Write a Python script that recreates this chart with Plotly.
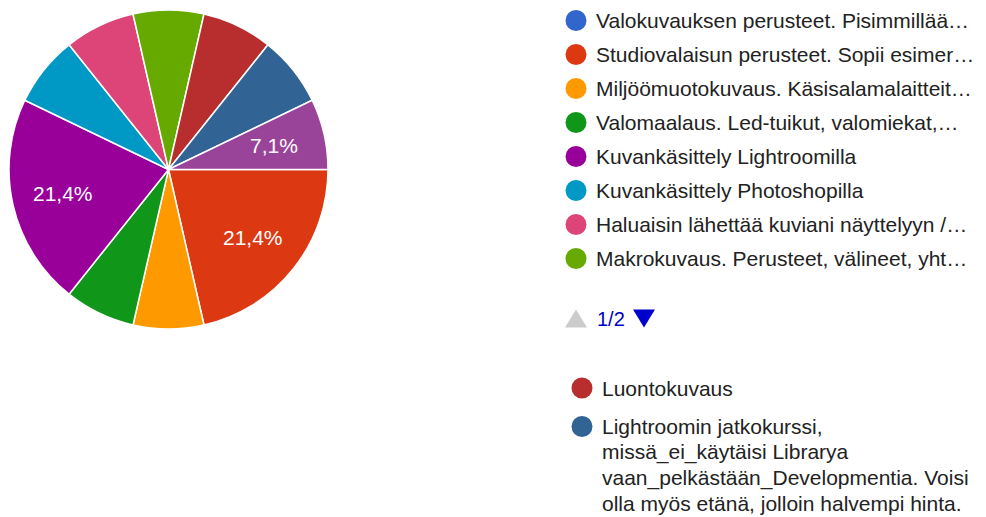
import math
import plotly.graph_objects as go

W, H = 986, 517
OFF = 8  # the page body adds an 8px margin; positions below are given in page pixels

# ---- data ----
labels = [
    "Valokuvauksen perusteet. Pisimmillää…",
    "Studiovalaisun perusteet. Sopii esimer…",
    "Miljöömuotokuvaus. Käsisalamalaitteit…",
    "Valomaalaus. Led-tuikut, valomiekat,…",
    "Kuvankäsittely Lightroomilla",
    "Kuvankäsittely Photoshopilla",
    "Haluaisin lähettää kuviani näyttelyyn /…",
    "Makrokuvaus. Perusteet, välineet, yht…",
    "Luontokuvaus",
    "Lightroomin jatkokurssi, missä_ei_käytäisi Librarya vaan_pelkästään_Developmentia. Voisi olla myös etänä, jolloin halvempi hinta.",
    "Muu",
]
values = [0, 3, 1, 1, 3, 1, 1, 1, 1, 1, 1]
colors = ["#3366cc", "#dc3912", "#ff9900", "#109618", "#990099", "#0099c6",
          "#dd4477", "#66aa00", "#b82e2e", "#316395", "#994499"]
labelled_slices = [1, 4, 10]          # slices whose percentage is printed
page1_items = list(range(8))          # legend page 1/2
page2_items = [8, 9]                  # visible part of legend page 2
page2_lines = {
    8: ["Luontokuvaus"],
    9: ["Lightroomin jatkokurssi,",
        "missä_ei_käytäisi Librarya",
        "vaan_pelkästään_Developmentia. Voisi",
        "olla myös etänä, jolloin halvempi hinta."],
}
page_text = "1/2"

FONT = "Arial, Liberation Sans, sans-serif"
TXT = "#222222"

# pie geometry (page pixels)
CX, CY, R = 168.5, 169.5, 159.5
START_DEG = 90
LABEL_R = 0.68


def px(v):
    return v - OFF


total = sum(values)

fig = go.Figure()

fig.add_trace(go.Pie(
    labels=labels, values=values, sort=False, direction="clockwise", rotation=START_DEG,
    marker=dict(colors=colors, line=dict(color="white", width=1.5)),
    textinfo="none", hoverinfo="label+percent", showlegend=False,
    domain=dict(x=[px(CX - R) / W, px(CX + R) / W],
                y=[1 - px(CY + R) / H, 1 - px(CY - R) / H]),
))

annotations = []

# percentage labels placed along each slice's bisector
cum = 0
for i, v in enumerate(values):
    mid = START_DEG + (cum + v / 2) / total * 360
    cum += v
    if i not in labelled_slices:
        continue
    a = math.radians(mid)
    annotations.append(dict(
        x=px(CX + LABEL_R * R * math.sin(a)), y=px(CY - LABEL_R * R * math.cos(a)),
        xref="x", yref="y", showarrow=False, xanchor="center", yanchor="middle",
        text=f"{v / total * 100:.1f}".replace(".", ",") + "%",
        font=dict(family=FONT, size=21, color="white")))

# ---- legend, page 1 ----
row0, step = 20.5, 34
lx, tx = 576, 594
ys1 = [row0 + step * k for k in range(len(page1_items))]
fig.add_trace(go.Scatter(
    x=[px(lx)] * len(page1_items), y=[px(y) for y in ys1], mode="markers",
    marker=dict(size=21, color=[colors[i] for i in page1_items], line=dict(width=0)),
    hoverinfo="skip", showlegend=False,
))
for k, i in enumerate(page1_items):
    annotations.append(dict(x=px(tx), y=px(ys1[k]), xref="x", yref="y", text=labels[i],
                            showarrow=False, xanchor="left", yanchor="middle",
                            font=dict(family=FONT, size=21, color=TXT)))

# pagination (triangles drawn as shapes)
py = 318.5
shapes = []
for cx, up, col in [(576, True, "#cccccc"), (644, False, "#0000cc")]:
    half_w, half_h = 11, 9
    if up:
        path = (f"M {px(cx - half_w)} {px(py + half_h)} L {px(cx + half_w)} {px(py + half_h)} "
                f"L {px(cx)} {px(py - half_h)} Z")
    else:
        path = (f"M {px(cx - half_w)} {px(py - half_h)} L {px(cx + half_w)} {px(py - half_h)} "
                f"L {px(cx)} {px(py + half_h)} Z")
    shapes.append(dict(type="path", path=path, xref="x", yref="y",
                       fillcolor=col, line=dict(width=0)))
annotations.append(dict(x=px(595), y=px(py), xref="x", yref="y", text=page_text,
                        showarrow=False, xanchor="left", yanchor="middle",
                        font=dict(family=FONT, size=20, color="#0000cc")))

# ---- legend, page 2 (visible part) ----
lx2, tx2 = 582, 600
p2_y = [388, 426.5]
line_step = 25.5
fig.add_trace(go.Scatter(
    x=[px(lx2)] * len(page2_items), y=[px(y) for y in p2_y], mode="markers",
    marker=dict(size=21, color=[colors[i] for i in page2_items], line=dict(width=0)),
    hoverinfo="skip", showlegend=False,
))
for k, i in enumerate(page2_items):
    for j, line in enumerate(page2_lines[i]):
        annotations.append(dict(x=px(tx2), y=px(p2_y[k] + j * line_step), xref="x", yref="y",
                                text=line, showarrow=False, xanchor="left",
                                yanchor="middle",
                                font=dict(family=FONT, size=21, color=TXT)))

fig.update_layout(
    width=W, height=H, margin=dict(l=0, r=0, t=0, b=0),
    paper_bgcolor="white", plot_bgcolor="white",
    xaxis=dict(range=[0, W], visible=False, fixedrange=True),
    yaxis=dict(range=[H, 0], visible=False, fixedrange=True),
    annotations=annotations, shapes=shapes, showlegend=False,
    font=dict(family=FONT),
)

fig.write_html("out.html")
